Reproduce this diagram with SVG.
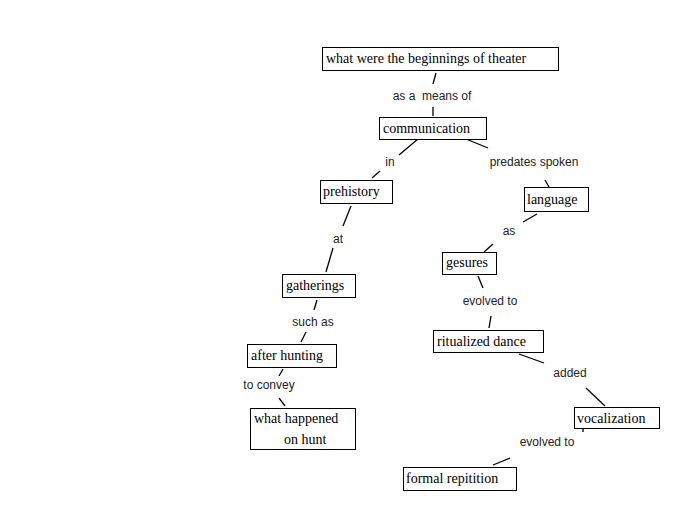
<svg xmlns="http://www.w3.org/2000/svg" width="700" height="531" viewBox="0 0 700 531">
<style>
.box{fill:#fff;stroke:#000;stroke-width:1}
.nt{font-family:"Liberation Serif","Times New Roman",serif;font-size:14px;fill:#000}
.lt{font-family:"Liberation Sans",Arial,sans-serif;font-size:12px;fill:#222;text-anchor:middle}
.ln{stroke:#000;stroke-width:1.3;fill:none}
</style>
<rect width="700" height="531" fill="#fff"/>
<g id="connectors">
<line class="ln" x1="436" y1="73" x2="433" y2="84"/>
<line class="ln" x1="433" y1="107" x2="433" y2="116"/>
<line class="ln" x1="418" y1="139" x2="399" y2="155"/>
<line class="ln" x1="380" y1="171" x2="372" y2="178"/>
<line class="ln" x1="466" y1="139" x2="488" y2="148"/>
<line class="ln" x1="545" y1="180" x2="549" y2="187"/>
<line class="ln" x1="537" y1="214" x2="523" y2="222"/>
<line class="ln" x1="493" y1="244" x2="484" y2="252"/>
<line class="ln" x1="351" y1="206" x2="343" y2="226"/>
<line class="ln" x1="333" y1="248" x2="326" y2="272"/>
<line class="ln" x1="317" y1="300" x2="314" y2="310"/>
<line class="ln" x1="306" y1="332" x2="301" y2="342"/>
<line class="ln" x1="283" y1="369" x2="279" y2="376"/>
<line class="ln" x1="279" y1="398" x2="285" y2="406"/>
<line class="ln" x1="478" y1="276" x2="483" y2="288" stroke-width="2"/>
<line class="ln" x1="491" y1="316" x2="489" y2="328"/>
<line class="ln" x1="519" y1="354" x2="544" y2="363"/>
<line class="ln" x1="586" y1="388" x2="605" y2="406"/>
<line class="ln" x1="583" y1="429" x2="583" y2="432"/>
<line class="ln" x1="510" y1="458" x2="493" y2="465"/>
</g>
<g id="labels">
<text class="lt" x="432" y="100" xml:space="preserve" style="white-space:pre">as a  means of</text>
<text class="lt" x="390" y="166">in</text>
<text class="lt" x="534" y="166">predates spoken</text>
<text class="lt" x="338" y="243">at</text>
<text class="lt" x="509" y="235">as</text>
<text class="lt" x="490" y="305">evolved to</text>
<text class="lt" x="313" y="326">such as</text>
<text class="lt" x="269" y="389">to convey</text>
<text class="lt" x="570" y="377">added</text>
<text class="lt" x="547" y="446">evolved to</text>
</g>
<g id="n1"><rect class="box" x="322.5" y="47.5" width="236" height="23"/><text class="nt" x="326" y="63">what were the beginnings of theater</text></g>
<g id="n2"><rect class="box" x="379.5" y="117.5" width="107" height="22"/><text class="nt" x="383" y="133">communication</text></g>
<g id="n3"><rect class="box" x="320.5" y="180.5" width="72" height="23"/><text class="nt" x="323" y="196">prehistory</text></g>
<g id="n4"><rect class="box" x="524.5" y="187.5" width="64" height="24"/><text class="nt" x="527" y="204">language</text></g>
<g id="n5"><rect class="box" x="442.5" y="252.5" width="54" height="22"/><text class="nt" x="446" y="267">gesures</text></g>
<g id="n6"><rect class="box" x="282.5" y="274.5" width="73" height="23"/><text class="nt" x="286" y="290">gatherings</text></g>
<g id="n7"><rect class="box" x="247.5" y="344.5" width="89" height="23"/><text class="nt" x="251" y="360">after hunting</text></g>
<g id="n8"><rect class="box" x="250.5" y="408.5" width="105" height="41"/><text class="nt" x="254" y="423">what happened</text><text class="nt" x="284" y="444">on hunt</text></g>
<g id="n9"><rect class="box" x="433.5" y="330.5" width="110" height="22"/><text class="nt" x="437" y="346">ritualized dance</text></g>
<g id="n10"><rect class="box" x="574.5" y="407.5" width="85" height="21"/><text class="nt" x="577" y="423">vocalization</text></g>
<g id="n11"><rect class="box" x="403.5" y="467.5" width="113" height="23"/><text class="nt" x="406" y="483">formal repitition</text></g>
</svg>
